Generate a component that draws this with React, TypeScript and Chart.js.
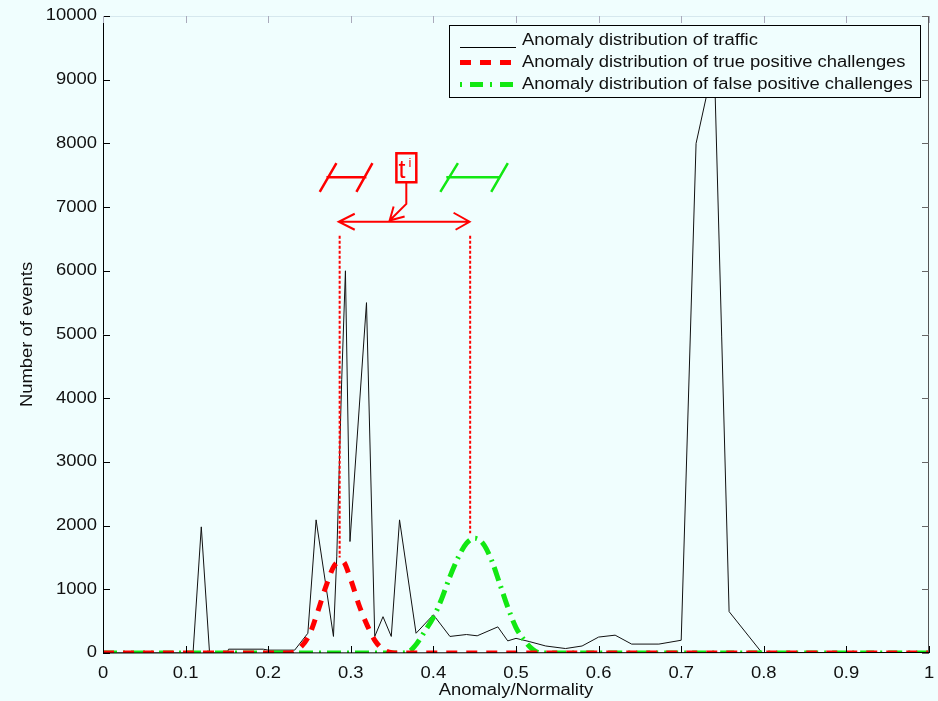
import React, { useEffect, useRef } from 'react';
import { Chart, registerables } from 'chart.js';

Chart.register(...registerables);

// ---------- data ----------
const TRAFFIC_X = [0, 0.109, 0.119, 0.129, 0.15, 0.152, 0.194, 0.2, 0.232, 0.248, 0.258, 0.279, 0.283, 0.289, 0.2935, 0.299, 0.319, 0.329, 0.339, 0.349, 0.359, 0.379, 0.4, 0.42, 0.44, 0.453, 0.478, 0.49, 0.5, 0.516, 0.536, 0.56, 0.58, 0.6, 0.62, 0.64, 0.673, 0.7, 0.718, 0.74, 0.758, 0.798, 1];
const TRAFFIC_Y = [0, 0, 1980, 0, 0, 60, 60, 45, 45, 310, 2090, 260, 1510, 4290, 6000, 1750, 5500, 260, 570, 260, 2090, 310, 600, 260, 290, 270, 410, 190, 230, 180, 110, 70, 110, 250, 280, 140, 140, 200, 8000, 9300, 650, 0, 0];

const TRUE_X = [0, 0.22, 0.23, 0.24, 0.25, 0.26, 0.27, 0.28, 0.29, 0.3, 0.31, 0.32, 0.33, 0.34, 0.35, 0.36, 1];
const TRUE_Y = [0, 0, 10, 100, 290, 650, 1050, 1370, 1440, 1150, 750, 430, 180, 50, 5, 0, 0];

const FALSE_X = [0, 0.36, 0.37, 0.38, 0.39, 0.4, 0.41, 0.42, 0.43, 0.44, 0.45, 0.46, 0.47, 0.48, 0.49, 0.5, 0.51, 0.52, 0.53, 1];
const FALSE_Y = [0, 0, 20, 150, 350, 560, 850, 1200, 1500, 1720, 1800, 1720, 1470, 1100, 720, 400, 200, 60, 0, 0];

const LEGEND_LABELS = [
  'Anomaly distribution of traffic',
  'Anomaly distribution of true positive challenges',
  'Anomaly distribution of false positive challenges',
];
const X_TITLE = 'Anomaly/Normality';
const Y_TITLE = 'Number of events';
const X_TICK_LABELS = ['0', '0.1', '0.2', '0.3', '0.4', '0.5', '0.6', '0.7', '0.8', '0.9', '1'];
const Y_TICK_LABELS = ['0', '1000', '2000', '3000', '4000', '5000', '6000', '7000', '8000', '9000', '10000'];
const X_MIN = 0, X_MAX = 1, X_STEP = 0.1;
const Y_MIN = 0, Y_MAX = 10000, Y_STEP = 1000;

// annotation anchors (data units)
const THRESH_LEFT = 0.2865;
const THRESH_RIGHT = 0.4445;
const ARROW_LEFT = 0.2854;
const ARROW_RIGHT = 0.4438;
const ARROW_Y = 6770;
const DOT_TOP = 6550;
const DOT_LEFT_BOTTOM = 1500;
const DOT_RIGHT_BOTTOM = 1880;
const BOX_X = [0.3552, 0.3793];
const BOX_Y = [7845, 7390];
const POINTER = [[0.3672, 7390], [0.3672, 7050], [0.347, 6790]];
const SYM_Y = 7468;
const SYM_TICK_Y = [7240, 7690];
const RED_SYM = { x0: 0.2705, x1: 0.3189, t0: [0.2624, 0.2826], t1: [0.3068, 0.3262] };
const GREEN_SYM = { x0: 0.4156, x1: 0.4801, t0: [0.4084, 0.4297], t1: [0.47, 0.4901] };
const BOX_LABEL = 't';
const BOX_SUP = 'i';

const RED = '#ff0000';
const GREEN = '#12e812';
const BG = '#f0fefe';
const INK = '#111';
const FONT = '"Liberation Sans", Arial, Helvetica, sans-serif';
const SX = 1.15; // horizontal stretch of the lettering

const toPts = (xs: number[], ys: number[]) => xs.map((x, i) => ({ x, y: ys[i] }));

const drawText = (ctx: any, text: string, x: number, y: number, align: string, rot = 0) => {
  ctx.save();
  ctx.translate(x, y);
  if (rot) ctx.rotate(rot);
  ctx.scale(SX, 1);
  ctx.textAlign = align;
  ctx.textBaseline = 'middle';
  ctx.fillText(text, 0, 0);
  ctx.restore();
};

const decorPlugin = {
  id: 'decor',
  afterDraw(chart: any) {
    const { ctx, chartArea: a, scales } = chart;
    const xs = scales.x, ys = scales.y;
    const px = (v: number) => xs.getPixelForValue(v);
    const py = (v: number) => ys.getPixelForValue(v);
    ctx.save();

    // frame
    ctx.lineWidth = 1;
    ctx.strokeStyle = '#d6e8ee';
    ctx.beginPath(); ctx.moveTo(a.left, a.top + 0.5); ctx.lineTo(a.right, a.top + 0.5); ctx.stroke();
    ctx.strokeStyle = '#555';
    ctx.beginPath(); ctx.moveTo(a.right - 0.5, a.top); ctx.lineTo(a.right - 0.5, a.bottom); ctx.stroke();
    ctx.strokeStyle = '#000';
    ctx.beginPath(); ctx.moveTo(a.left + 0.5, a.top); ctx.lineTo(a.left + 0.5, a.bottom); ctx.lineTo(a.right, a.bottom - 0.5); ctx.stroke();

    // inward ticks + labels
    const TL = 7;
    ctx.fillStyle = INK;
    ctx.font = `16px ${FONT}`;
    Y_TICK_LABELS.forEach((lab, i) => {
      const v = Y_MIN + i * Y_STEP;
      const y = Math.round(py(v)) + 0.5;
      ctx.strokeStyle = '#000';
      ctx.beginPath(); ctx.moveTo(a.left, y); ctx.lineTo(a.left + TL, y); ctx.stroke();
      ctx.strokeStyle = '#666';
      ctx.beginPath(); ctx.moveTo(a.right, y); ctx.lineTo(a.right - TL, y); ctx.stroke();
      drawText(ctx, lab, a.left - 6, py(v), 'right');
    });
    X_TICK_LABELS.forEach((lab, i) => {
      const v = X_MIN + i * X_STEP;
      const x = Math.round(px(v)) + 0.5;
      ctx.strokeStyle = '#000';
      ctx.beginPath(); ctx.moveTo(x, a.bottom); ctx.lineTo(x, a.bottom - TL); ctx.stroke();
      ctx.strokeStyle = '#aab';
      ctx.beginPath(); ctx.moveTo(x, a.top); ctx.lineTo(x, a.top + TL); ctx.stroke();
      drawText(ctx, lab, px(v), a.bottom + 21, 'center');
    });
    drawText(ctx, X_TITLE, (a.left + a.right) / 2, a.bottom + 38, 'center');
    drawText(ctx, Y_TITLE, 28, (a.top + a.bottom) / 2, 'center', -Math.PI / 2);

    // annotations
    ctx.strokeStyle = RED;
    ctx.lineWidth = 2;
    ctx.setLineDash([3, 2]);
    ctx.beginPath();
    ctx.moveTo(px(THRESH_LEFT), py(DOT_TOP)); ctx.lineTo(px(THRESH_LEFT), py(DOT_LEFT_BOTTOM));
    ctx.moveTo(px(THRESH_RIGHT), py(DOT_TOP)); ctx.lineTo(px(THRESH_RIGHT), py(DOT_RIGHT_BOTTOM));
    ctx.stroke();
    ctx.setLineDash([]);

    // double arrow
    const ay = py(ARROW_Y);
    const al = px(ARROW_LEFT), ar = px(ARROW_RIGHT);
    ctx.beginPath();
    ctx.moveTo(al, ay); ctx.lineTo(ar, ay);
    ctx.moveTo(al + 16, ay - 8); ctx.lineTo(al, ay); ctx.lineTo(al + 16, ay + 8);
    ctx.moveTo(ar - 16, ay - 9); ctx.lineTo(ar, ay); ctx.lineTo(ar - 14, ay + 8);
    ctx.stroke();

    // box with t^i
    const bx0 = px(BOX_X[0]), bx1 = px(BOX_X[1]), by0 = py(BOX_Y[0]), by1 = py(BOX_Y[1]);
    ctx.lineWidth = 2.5;
    ctx.strokeRect(bx0, by0, bx1 - bx0, by1 - by0);
    ctx.fillStyle = RED;
    ctx.textBaseline = 'alphabetic';
    ctx.textAlign = 'left';
    ctx.font = `25px ${FONT}`;
    ctx.fillText(BOX_LABEL, bx0 + 2, by1 - 4);
    ctx.font = `13px ${FONT}`;
    ctx.fillText(BOX_SUP, bx0 + 12, by0 + 14);
    ctx.lineWidth = 2;

    // pointer arrow
    const p0 = POINTER.map(([x, y]) => [px(x), py(y)]);
    ctx.beginPath();
    ctx.moveTo(p0[0][0], p0[0][1]);
    ctx.lineTo(p0[1][0], p0[1][1]);
    ctx.lineTo(p0[2][0], p0[2][1]);
    const tx = p0[2][0], ty = p0[2][1];
    ctx.moveTo(tx + 4, ty - 14); ctx.lineTo(tx, ty); ctx.lineTo(tx + 15, ty - 4);
    ctx.stroke();

    // interval symbols
    const drawSym = (s: any, color: string) => {
      ctx.strokeStyle = color;
      ctx.lineWidth = 2.5;
      ctx.beginPath();
      ctx.moveTo(px(s.x0), py(SYM_Y)); ctx.lineTo(px(s.x1), py(SYM_Y));
      ctx.moveTo(px(s.t0[0]), py(SYM_TICK_Y[0])); ctx.lineTo(px(s.t0[1]), py(SYM_TICK_Y[1]));
      ctx.moveTo(px(s.t1[0]), py(SYM_TICK_Y[0])); ctx.lineTo(px(s.t1[1]), py(SYM_TICK_Y[1]));
      ctx.stroke();
    };
    drawSym(RED_SYM, RED);
    drawSym(GREEN_SYM, GREEN);

    // legend
    const lx0 = 449.5, ly0 = 25.5, lx1 = 920.5, ly1 = 97.5;
    ctx.fillStyle = BG;
    ctx.fillRect(lx0, ly0, lx1 - lx0, ly1 - ly0);
    ctx.strokeStyle = '#000';
    ctx.lineWidth = 1;
    ctx.strokeRect(lx0, ly0, lx1 - lx0, ly1 - ly0);
    const rows = [40, 62, 84];
    const styles = [
      { color: '#000', width: 1, dash: [] as number[], dy: 7 },
      { color: RED, width: 5, dash: [11, 9], dy: 0 },
      { color: GREEN, width: 5, dash: [2, 8, 13, 7], dy: 0 },
    ];
    styles.forEach((s, i) => {
      ctx.strokeStyle = s.color;
      ctx.lineWidth = s.width;
      ctx.setLineDash(s.dash);
      ctx.beginPath();
      ctx.moveTo(460, rows[i] + s.dy + 0.5);
      ctx.lineTo(516, rows[i] + s.dy + 0.5);
      ctx.stroke();
    });
    ctx.setLineDash([]);
    ctx.fillStyle = INK;
    ctx.font = `16px ${FONT}`;
    LEGEND_LABELS.forEach((t, i) => drawText(ctx, t, 522, rows[i] + 1, 'left'));

    ctx.restore();
  },
};

export default function App() {
  const ref = useRef<HTMLCanvasElement | null>(null);
  useEffect(() => {
    if (!ref.current) return;
    const chart = new Chart(ref.current, {
      type: 'line',
      data: {
        datasets: [
          {
            label: LEGEND_LABELS[0],
            data: toPts(TRAFFIC_X, TRAFFIC_Y),
            borderColor: '#111',
            borderWidth: 1,
            pointRadius: 0,
            tension: 0,
            order: 3,
          },
          {
            label: LEGEND_LABELS[2],
            data: toPts(FALSE_X, FALSE_Y),
            borderColor: GREEN,
            borderWidth: 5,
            borderDash: [14, 6, 2, 6],
            pointRadius: 0,
            cubicInterpolationMode: 'monotone',
            order: 2,
          },
          {
            label: LEGEND_LABELS[1],
            data: toPts(TRUE_X, TRUE_Y),
            borderColor: RED,
            borderWidth: 5,
            borderDash: [11, 9],
            pointRadius: 0,
            cubicInterpolationMode: 'monotone',
            order: 1,
          },
        ],
      },
      options: {
        animation: false,
        responsive: false,
        maintainAspectRatio: false,
        devicePixelRatio: 1,
        layout: { padding: { left: 0, top: 16, right: 9, bottom: 0 } },
        plugins: { legend: { display: false }, tooltip: { enabled: false } },
        scales: {
          x: {
            type: 'linear',
            min: X_MIN,
            max: X_MAX,
            border: { display: false },
            grid: { display: false, drawTicks: false },
            ticks: { display: false, stepSize: X_STEP },
            afterFit: (s: any) => { s.height = 48; },
          },
          y: {
            type: 'linear',
            min: Y_MIN,
            max: Y_MAX,
            border: { display: false },
            grid: { display: false, drawTicks: false },
            ticks: { display: false, stepSize: Y_STEP },
            afterFit: (s: any) => { s.width = 103; },
          },
        },
      },
      plugins: [decorPlugin],
    } as any);
    return () => chart.destroy();
  }, []);

  return (
    <div style={{ position: 'fixed', left: 0, top: 0, width: 938, height: 701, background: BG }}>
      <canvas ref={ref} width={938} height={701} style={{ display: 'block' }} />
    </div>
  );
}
